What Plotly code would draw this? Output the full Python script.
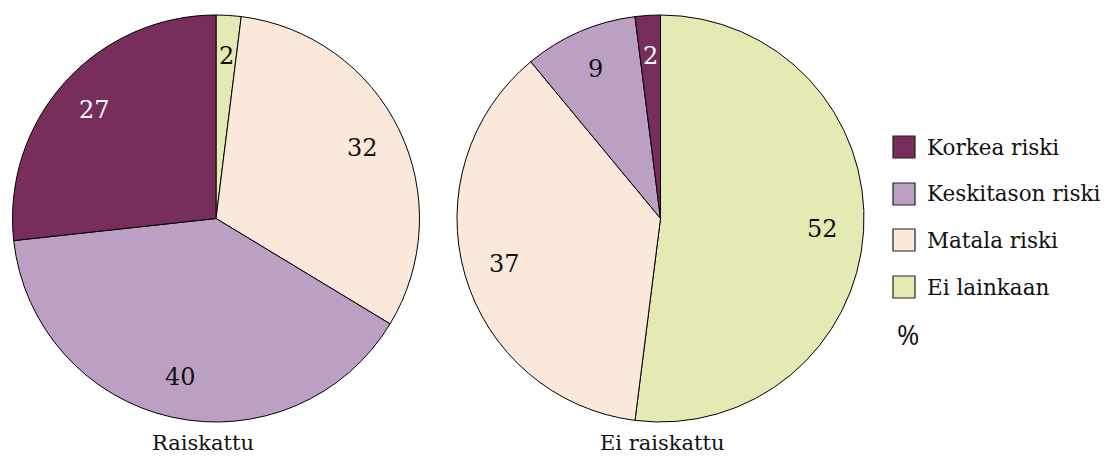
import math
import plotly.graph_objects as go

# ---- data ----
categories = ["Korkea riski", "Keskitason riski", "Matala riski", "Ei lainkaan"]
colors = ["#772E5B", "#BCA0C3", "#FAE8DA", "#E5EAB4"]
raiskattu = [27, 40, 32, 2]
ei_raiskattu = [2, 9, 37, 52]
pie_titles = ["Raiskattu", "Ei raiskattu"]
unit_label = "%"

OFF = 8  # page body margin
W, H = 1108 - OFF, 459 - OFF
FONT = "DejaVu Serif"


def px(x):
    return (x - OFF) / W


def py(y):
    return 1 - (y - OFF) / H


# pie geometry (screen pixels)
pies = [
    dict(values=raiskattu, x0=12, x1=420, title=pie_titles[0], tx=203),
    dict(values=ei_raiskattu, x0=456, x1=865, title=pie_titles[1], tx=662),
]
top, bot = 15, 422

fig = go.Figure()
annotations = []
shapes = []

for p in pies:
    # drawn clockwise from 12 o'clock, in reversed category order
    labs = categories[::-1]
    vals = p["values"][::-1]
    cols = colors[::-1]
    fig.add_trace(go.Pie(
        labels=labs,
        values=vals,
        sort=False,
        direction="clockwise",
        rotation=0,
        marker=dict(colors=cols, line=dict(color="#000000", width=1)),
        textinfo="none",
        hoverinfo="label+value",
        showlegend=False,
        domain=dict(x=[px(p["x0"]), px(p["x1"])], y=[py(bot), py(top)]),
    ))
    # slice labels, positioned from data along mid-angle (clockwise from top)
    cx = (p["x0"] + p["x1"]) / 2
    cy = (top + bot) / 2
    r = min(p["x1"] - p["x0"], bot - top) / 2
    total = sum(vals)
    cum = 0
    for v, col in zip(vals, cols):
        mid = (cum + v / 2) / total * 2 * math.pi
        cum += v
        f = 0.8
        lx = cx + r * f * math.sin(mid)
        ly = cy - r * f * math.cos(mid)
        annotations.append(dict(
            x=px(lx), y=py(ly), xref="paper", yref="paper",
            xanchor="center", yanchor="middle",
            text=str(v), showarrow=False,
            font=dict(family=FONT, size=24,
                      color="#FFFFFF" if col == colors[0] else "#111111"),
        ))
    annotations.append(dict(
        x=px(p["tx"]), y=py(443), xref="paper", yref="paper",
        xanchor="center", yanchor="middle",
        text=p["title"], showarrow=False,
        font=dict(family=FONT, size=21, color="#111111"),
    ))

# legend (drawn manually)
leg_y = [147, 194, 240, 287]
for cat, col, yy in zip(categories, colors, leg_y):
    shapes.append(dict(
        type="rect", xref="paper", yref="paper",
        x0=px(893), x1=px(915), y0=py(yy + 11), y1=py(yy - 11),
        fillcolor=col, line=dict(color="#222222", width=1.2),
    ))
    annotations.append(dict(
        x=px(925), y=py(yy), xref="paper", yref="paper",
        xanchor="left", yanchor="middle",
        text=cat, showarrow=False,
        font=dict(family=FONT, size=21.5, color="#111111"),
    ))
annotations.append(dict(
    x=px(895), y=py(334), xref="paper", yref="paper",
    xanchor="left", yanchor="middle",
    text=unit_label, showarrow=False,
    font=dict(family="Open Sans", size=27, color="#111111"),
))

fig.update_layout(
    width=W, height=H,
    margin=dict(l=0, r=0, t=0, b=0),
    paper_bgcolor="#FFFFFF",
    plot_bgcolor="#FFFFFF",
    annotations=annotations,
    shapes=shapes,
)

fig.write_html("out.html")
